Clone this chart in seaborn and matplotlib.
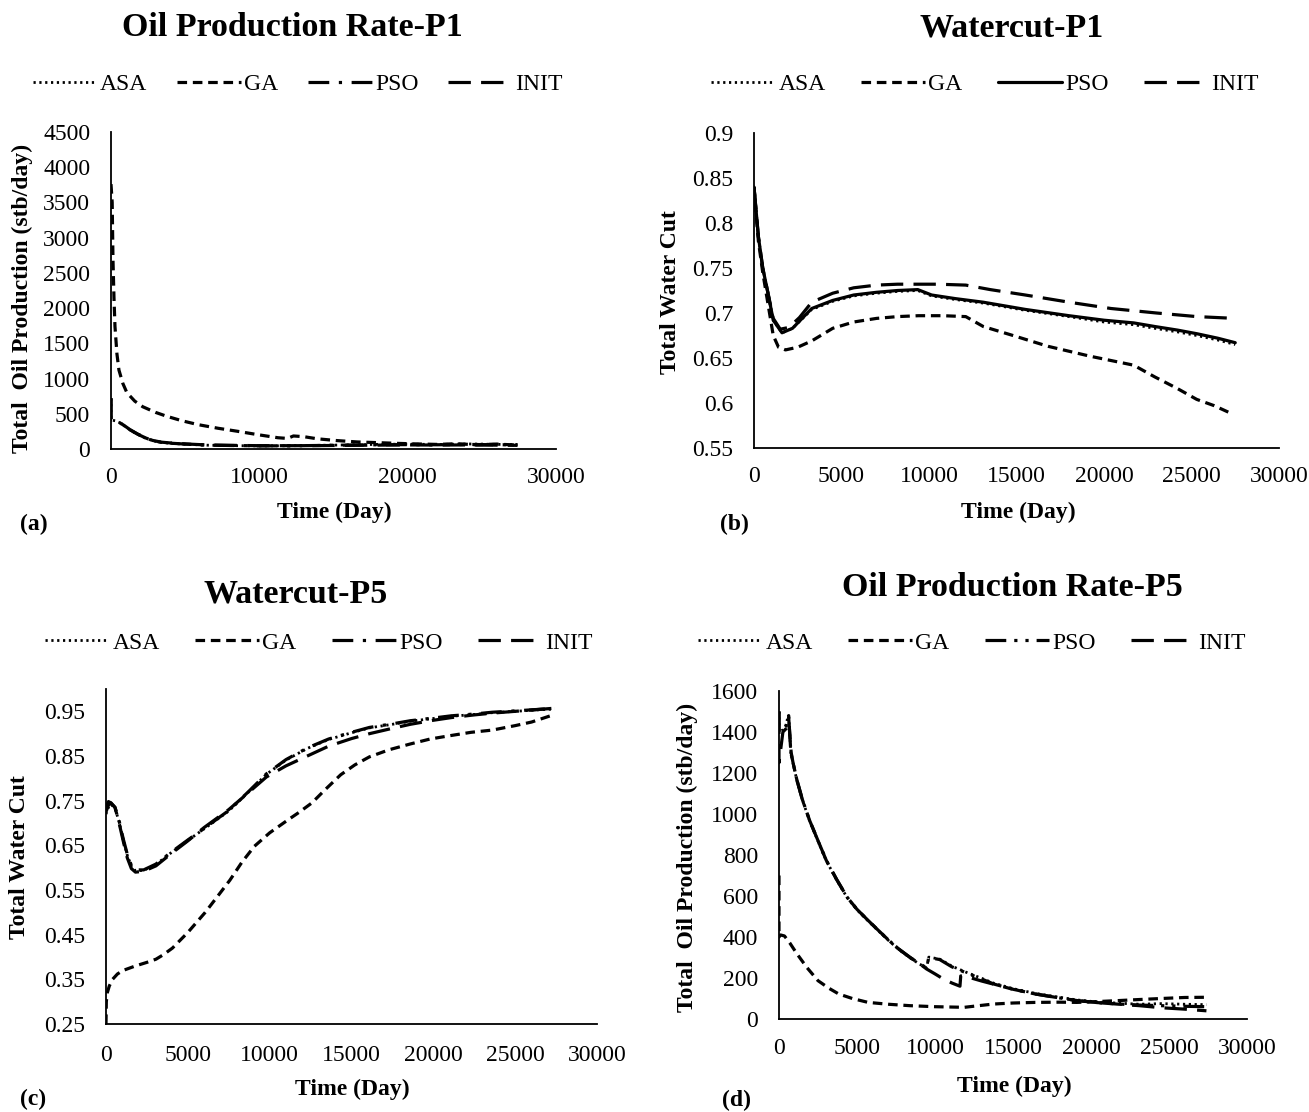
import matplotlib
matplotlib.use("Agg")
import matplotlib.pyplot as plt
import matplotlib.lines as mlines
import seaborn as sns

sns.set_theme(style="white")
plt.rcParams['font.family'] = ['Liberation Serif', 'DejaVu Serif']
plt.rcParams['text.color'] = 'black'
plt.rcParams['axes.labelcolor'] = 'black'
plt.rcParams['xtick.color'] = 'black'
plt.rcParams['ytick.color'] = 'black'

methods = ["ASA", "GA", "PSO", "INIT"]

# ---------------- Panel (a): Oil Production Rate-P1 ----------------
a_t_ga = [0, 80, 134, 200, 268, 400, 536, 800, 1070, 1600, 2140, 3000, 3750, 4800, 5890, 7200,
          8570, 10000, 11250, 11900, 12300, 13000, 13900, 15200, 16600, 18000, 19300, 20600,
          22000, 23300, 24600, 26000, 27400]
a_ga = [3760, 3500, 2680, 2150, 1740, 1350, 1120, 930, 800, 680, 600, 520, 465, 400, 345, 295,
        250, 200, 160, 150, 185, 175, 145, 120, 100, 90, 80, 72, 65, 75, 60, 70, 55]
a_t_pso = [0, 0, 60, 300, 540, 900, 1300, 1800, 2300, 2800, 3400, 4200, 5000, 6500, 8000, 10000,
           12000, 14000, 16000, 18000, 20000, 22000, 24000, 26000, 27400]
a_pso = [720, 420, 410, 400, 380, 330, 270, 210, 160, 120, 95, 80, 70, 55, 50, 45, 45, 50, 55,
         60, 62, 60, 65, 60, 60]
a_asa = [720, 420, 410, 400, 378, 328, 268, 208, 158, 118, 93, 78, 68, 54, 48, 44, 46, 52, 58,
         66, 70, 64, 72, 66, 62]
a_init = [720, 420, 412, 402, 382, 332, 272, 212, 162, 122, 97, 82, 72, 57, 52, 47, 47, 48, 52,
          55, 58, 56, 58, 55, 52]

# ---------------- Panel (b): Watercut-P1 ----------------
b_t_pso = [0, 250, 500, 800, 1100, 1600, 2200, 3300, 4500, 5700, 7000, 8200, 9360, 10150, 11500,
           13100, 15500, 18000, 20000, 21700, 22900, 24200, 25300, 26500, 27500]
b_pso = [0.840, 0.785, 0.750, 0.722, 0.692, 0.678, 0.683, 0.705, 0.714, 0.720, 0.723, 0.725,
         0.726, 0.720, 0.716, 0.712, 0.704, 0.697, 0.692, 0.689, 0.685, 0.681, 0.677, 0.672, 0.667]
b_asa = [0.840, 0.785, 0.750, 0.722, 0.692, 0.678, 0.683, 0.704, 0.713, 0.719, 0.722, 0.724,
         0.725, 0.719, 0.715, 0.711, 0.703, 0.696, 0.690, 0.687, 0.683, 0.679, 0.675, 0.670, 0.665]
b_t_init = [0, 250, 500, 800, 1100, 1500, 2000, 2600, 3300, 4500, 5700, 7000, 8200, 9200, 10500,
            12100, 13500, 15500, 18000, 20400, 23000, 25300, 27500]
b_init = [0.840, 0.785, 0.750, 0.722, 0.694, 0.682, 0.684, 0.695, 0.712, 0.722, 0.728, 0.731,
          0.732, 0.732, 0.732, 0.731, 0.726, 0.720, 0.712, 0.705, 0.700, 0.696, 0.694]
b_t_ga = [0, 250, 500, 800, 1100, 1400, 1800, 2500, 3300, 4500, 5700, 7000, 8200, 9400, 10800,
          12100, 13100, 14800, 16800, 19200, 21700, 22900, 24200, 25300, 26300, 27200]
b_ga = [0.840, 0.780, 0.745, 0.710, 0.675, 0.662, 0.659, 0.662, 0.669, 0.683, 0.690, 0.694,
        0.696, 0.697, 0.697, 0.696, 0.685, 0.675, 0.663, 0.652, 0.642, 0.629, 0.616, 0.604,
        0.597, 0.589]

# ---------------- Panel (c): Watercut-P5 ----------------
c_t = [0, 150, 300, 550, 800, 1050, 1300, 1550, 1800, 2300, 3050, 4000, 5000, 6000, 7500, 8700,
       9800, 11000, 12300, 13600, 15000, 16100, 17500, 18600, 20000, 21100, 22500, 23600, 25000,
       26700, 27400]
c_pso = [0.725, 0.740, 0.745, 0.735, 0.705, 0.665, 0.630, 0.605, 0.595, 0.595, 0.608, 0.635,
         0.662, 0.688, 0.728, 0.770, 0.810, 0.842, 0.868, 0.888, 0.903, 0.914, 0.922, 0.929,
         0.935, 0.940, 0.944, 0.948, 0.951, 0.955, 0.956]
c_asa = [0.720, 0.735, 0.742, 0.733, 0.703, 0.663, 0.628, 0.603, 0.593, 0.594, 0.607, 0.634,
         0.661, 0.687, 0.727, 0.769, 0.809, 0.841, 0.867, 0.887, 0.902, 0.913, 0.921, 0.928,
         0.934, 0.939, 0.943, 0.947, 0.950, 0.954, 0.955]
c_init = [0.735, 0.748, 0.745, 0.735, 0.700, 0.660, 0.622, 0.598, 0.590, 0.592, 0.604, 0.632,
          0.660, 0.690, 0.730, 0.768, 0.803, 0.828, 0.850, 0.872, 0.889, 0.900, 0.912, 0.921,
          0.930, 0.936, 0.942, 0.946, 0.950, 0.955, 0.957]
c_t_ga = [0, 20, 80, 200, 400, 700, 1050, 1800, 2500, 3050, 3500, 4060, 5000, 6065, 6800, 7570,
          8300, 9070, 10000, 11080, 11800, 12580, 13400, 14340, 15200, 16090, 17300, 18600,
          19800, 21100, 22300, 23600, 25000, 26000, 27400]
c_ga = [0.250, 0.300, 0.320, 0.335, 0.350, 0.362, 0.370, 0.380, 0.388, 0.395, 0.405, 0.420,
        0.455, 0.500, 0.535, 0.572, 0.612, 0.648, 0.678, 0.706, 0.724, 0.745, 0.775, 0.808,
        0.830, 0.848, 0.864, 0.877, 0.888, 0.896, 0.903, 0.908, 0.918, 0.926, 0.943]

# ---------------- Panel (d): Oil Production Rate-P5 ----------------
d_t_pso = [0, 0, 250, 450, 550, 620, 680, 760, 900, 1150, 1500, 1960, 2500, 3030, 3700, 4370,
           5000, 5710, 6400, 7050, 7700, 8390, 9000, 9460, 9600, 10300, 11070, 12000, 13000,
           13750, 15000, 16430, 17800, 19100, 20400, 21800, 23100, 24500, 26000, 27400]
d_pso = [1500, 1400, 1410, 1430, 1470, 1480, 1400, 1300, 1250, 1165, 1070, 969, 870, 774, 680,
         594, 535, 481, 430, 383, 340, 301, 270, 250, 300, 290, 255, 225, 195, 171, 145, 122,
         105, 90, 80, 73, 68, 65, 62, 60]
d_asa = [1500, 1400, 1410, 1430, 1468, 1478, 1398, 1298, 1248, 1163, 1068, 967, 868, 772, 678,
         592, 533, 479, 428, 381, 338, 299, 268, 250, 302, 292, 258, 228, 198, 175, 148, 125,
         108, 93, 83, 77, 72, 75, 72, 70]
d_t_init = [0, 0, 250, 500, 620, 700, 780, 900, 1150, 1500, 1960, 2500, 3030, 3700, 4370, 5000,
            5710, 6400, 7050, 7700, 8390, 9000, 9460, 10000, 10540, 11100, 11600, 11650, 12100,
            13000, 13750, 15000, 16430, 17800, 19100, 20400, 21800, 23100, 24500, 26000, 27400]
d_init = [1500, 1250, 1400, 1420, 1470, 1380, 1300, 1250, 1165, 1070, 969, 870, 774, 680, 594,
          535, 481, 430, 383, 340, 301, 270, 244, 220, 195, 175, 160, 210, 205, 185, 170, 145,
          122, 105, 90, 80, 72, 65, 55, 48, 40]
d_t_ga = [0, 0, 100, 350, 700, 1150, 1800, 2500, 3200, 3830, 4700, 5710, 7000, 8390, 10000,
          11880, 12800, 13750, 15000, 16430, 18000, 19100, 20400, 21800, 23100, 24500, 26000, 27400]
d_ga = [700, 400, 410, 405, 370, 318, 250, 187, 150, 122, 100, 81, 72, 65, 60, 57, 65, 73, 78,
        81, 82, 81, 85, 90, 95, 100, 105, 106]

# ---------------- Text ----------------
titles = ["Oil Production Rate-P1", "Watercut-P1", "Watercut-P5", "Oil Production Rate-P5"]
ylabels = ["Total  Oil Production (stb/day)", "Total Water Cut", "Total Water Cut",
           "Total  Oil Production (stb/day)"]
xlabel = "Time (Day)"
panel_tags = ["(a)", "(b)", "(c)", "(d)"]

# ---------------- Styling ----------------
W, H = 1309, 1112
fig = plt.figure(figsize=(W / 100, H / 100), dpi=100)
fig.patch.set_facecolor("white")

LW = 2.3
style_asa = dict(linestyle=(0, (0.8, 1.3)), linewidth=2.0, dash_capstyle="butt")
style_ga = dict(linestyle=(0, (3.0, 1.8)), linewidth=LW)
style_init = dict(linestyle=(0, (7.0, 3.2)), linewidth=LW)
pso_styles = {
    "a": dict(linestyle=(0, (6.5, 3.0, 1.0, 3.0)), linewidth=LW),
    "b": dict(linestyle="-", linewidth=LW),
    "c": dict(linestyle=(0, (6.5, 3.0, 1.0, 3.0)), linewidth=LW),
    "d": dict(linestyle=(0, (6.5, 2.5, 1.0, 2.5, 1.0, 2.5)), linewidth=LW),
}

FS_TICK = 17
FS_LAB = 17
FS_TITLE = 24.5


def add_ax(l, r, t, b):
    return fig.add_axes([l / W, 1 - b / H, (r - l) / W, (b - t) / H])


def draw(ax, series, key):
    styles = {"ASA": style_asa, "GA": style_ga, "PSO": pso_styles[key], "INIT": style_init}
    for name, (tt, vv) in series.items():
        sns.lineplot(x=tt, y=vv, ax=ax, color="black", estimator=None, sort=False,
                     **styles[name])
    handles = [mlines.Line2D([], [], color="black", **styles[m]) for m in methods]
    return handles


def style_axes(ax, xlim, ylim, xticks, yticks, ylabels_fmt, xpad):
    ax.set_xlim(*xlim)
    ax.set_ylim(*ylim)
    ax.set_xticks(xticks)
    ax.set_xticklabels([str(v) for v in xticks])
    ax.set_yticks(yticks)
    ax.set_yticklabels(ylabels_fmt)
    for s in ["top", "right"]:
        ax.spines[s].set_visible(False)
    for s in ["left", "bottom"]:
        ax.spines[s].set_color("black")
        ax.spines[s].set_linewidth(1.3)
    ax.tick_params(axis="both", length=0, labelsize=FS_TICK, colors="black",
                   labelcolor="black")
    ax.tick_params(axis="y", pad=15)
    ax.tick_params(axis="x", pad=xpad)
    ax.set_xlabel("")
    ax.set_ylabel("")
    ax.grid(False)
    ax.set_facecolor("white")


def fmt(v):
    return ("%.2f" % v).rstrip("0").rstrip(".")


# Panel a
ax_a = add_ax(111, 556, 132, 449)
h_a = draw(ax_a, {"INIT": (a_t_pso, a_init), "PSO": (a_t_pso, a_pso), "GA": (a_t_ga, a_ga),
                  "ASA": (a_t_pso, a_asa)}, "a")
style_axes(ax_a, (0, 30000), (0, 4500), [0, 10000, 20000, 30000],
           list(range(0, 4501, 500)), [str(v) for v in range(0, 4501, 500)], 13)

# Panel b
ax_b = add_ax(754, 1279, 133, 448)
h_b = draw(ax_b, {"INIT": (b_t_init, b_init), "GA": (b_t_ga, b_ga), "ASA": (b_t_pso, b_asa),
                  "PSO": (b_t_pso, b_pso)}, "b")
b_ticks = [0.55, 0.6, 0.65, 0.7, 0.75, 0.8, 0.85, 0.9]
style_axes(ax_b, (0, 30000), (0.55, 0.9), list(range(0, 30001, 5000)), b_ticks,
           [fmt(v) for v in b_ticks], 13)

# Panel c
ax_c = add_ax(106, 597, 689, 1024)
h_c = draw(ax_c, {"INIT": (c_t, c_init), "GA": (c_t_ga, c_ga), "ASA": (c_t, c_asa),
                  "PSO": (c_t, c_pso)}, "c")
c_ticks = [0.25, 0.35, 0.45, 0.55, 0.65, 0.75, 0.85, 0.95]
style_axes(ax_c, (0, 30000), (0.25, 1.0), list(range(0, 30001, 5000)), c_ticks,
           [fmt(v) for v in c_ticks], 15)

# Panel d
ax_d = add_ax(779, 1247, 691, 1019)
h_d = draw(ax_d, {"INIT": (d_t_init, d_init), "GA": (d_t_ga, d_ga), "ASA": (d_t_pso, d_asa),
                  "PSO": (d_t_pso, d_pso)}, "d")
style_axes(ax_d, (0, 30000), (0, 1600), list(range(0, 30001, 5000)),
           list(range(0, 1601, 200)), [str(v) for v in range(0, 1601, 200)], 14)

# Titles, legends, labels
title_pos = [(292, 28), (1012, 28), (296, 594), (1012, 588)]
legend_pos = [(298, 84), (985, 84), (319, 643), (972, 643)]
legend_colsp = [1.25, 1.5, 1.5, 1.5]
ylab_pos = [(22, 298), (670, 292), (20, 857), (687, 857)]
xlab_pos = [(334, 512), (1018, 512), (352, 1089), (1014, 1086)]
tag_pos = [(20, 524), (720, 524), (20, 1099), (722, 1100)]
handles_all = [h_a, h_b, h_c, h_d]

for i in range(4):
    tx, ty = title_pos[i]
    fig.text(tx / W, 1 - ty / H, titles[i], ha="center", va="center", fontsize=FS_TITLE,
             fontweight="bold", color="black")
    lx, ly = legend_pos[i]
    leg = fig.legend(handles_all[i], methods, loc="center", bbox_to_anchor=(lx / W, 1 - ly / H),
                     ncol=4, frameon=False, fontsize=FS_LAB, handlelength=2.7,
                     handletextpad=0.15, columnspacing=legend_colsp[i], borderaxespad=0)
    for t in leg.get_texts():
        t.set_color("black")
    yx, yy = ylab_pos[i]
    fig.text(yx / W, 1 - yy / H, ylabels[i], rotation=90, ha="center", va="center",
             fontsize=FS_LAB, fontweight="bold", color="black")
    xx, xy = xlab_pos[i]
    fig.text(xx / W, 1 - xy / H, xlabel, ha="center", va="center", fontsize=FS_LAB,
             fontweight="bold", color="black")
    gx, gy = tag_pos[i]
    fig.text(gx / W, 1 - gy / H, panel_tags[i], ha="left", va="center", fontsize=FS_LAB,
             fontweight="bold", color="black")

fig.savefig("out.png", dpi=100, facecolor="white")
